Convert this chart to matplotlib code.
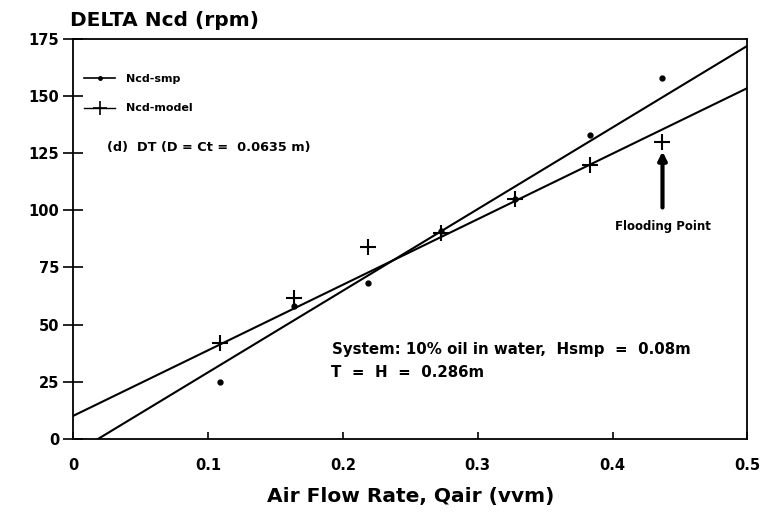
"""
Rotor speed difference vs. air flow rate, sample data against model,
with straight-line fits for each series.
"""

import matplotlib.pyplot as plt

plt.rcParams['font.family'] = ['DejaVu Sans']

# -------------------- Data --------------------
q_air = [0.109, 0.164, 0.219, 0.273, 0.328, 0.383, 0.437]
ncd_smp = [25, 58, 68, 91, 105, 133, 158]
ncd_model = [42, 61.5, 84, 90, 105, 120, 130]

# straight-line fits, evaluated at the ends of the x range
fit_x = [0.0, 0.5]
fit_smp = [-6.7, 172.0]
fit_model = [10.0, 153.5]

flood_x = 0.437
flood_y = 130

x_ticks = [0, 0.1, 0.2, 0.3, 0.4, 0.5]
x_tick_labels = ["0", "0.1", "0.2", "0.3", "0.4", "0.5"]
y_ticks = [0, 25, 50, 75, 100, 125, 150, 175]

# -------------------- Plot --------------------
fig = plt.figure(figsize=(7.77, 5.12), dpi=100)
ax = fig.add_axes([0.094, 0.143, 0.868, 0.781])

ax.plot(fit_x, fit_smp, color="black", lw=1.5)
ax.plot(fit_x, fit_model, color="black", lw=1.5)
ax.plot(q_air, ncd_smp, ls="none", marker="o", ms=3.5, color="black")
ax.plot(q_air, ncd_model, ls="none", marker="+", ms=12, mew=1.5, color="black")

# legend entries drawn as proxies
h_smp, = ax.plot([], [], color="black", lw=1.2, marker="o", ms=2.5)
h_model, = ax.plot([], [], color="black", lw=1.0, marker="+", ms=10, mew=1.2)
leg = ax.legend([h_smp, h_model], ["Ncd-smp", "Ncd-model"], loc="upper left",
                bbox_to_anchor=(0.0, 0.94), frameon=False, fontsize=8,
                handlelength=2.8, labelspacing=1.75, handletextpad=1.0,
                borderaxespad=0.6)
for t in leg.get_texts():
    t.set_fontweight("bold")

ax.text(0.025, 126, "(d)  DT (D = Ct =  0.0635 m)", fontsize=9.3,
        fontweight="bold")
ax.text(0.192, 37, "System: 10% oil in water,  Hsmp  =  0.08m", fontsize=10.8,
        fontweight="bold")
ax.text(0.191, 27, "T  =  H  =  0.286m", fontsize=10.8, fontweight="bold")

ax.annotate("", xy=(flood_x, flood_y - 3), xytext=(flood_x, flood_y - 30),
            arrowprops=dict(arrowstyle="-|>", color="black", lw=3,
                            mutation_scale=12))
ax.text(flood_x, flood_y - 37, "Flooding Point", fontsize=8.5,
        fontweight="bold", ha="center", va="center")

ax.set_xlim(0, 0.5)
ax.set_ylim(0, 175)
ax.set_xticks(x_ticks)
ax.set_xticklabels(x_tick_labels)
ax.set_yticks(y_ticks)
ax.tick_params(axis="y", direction="inout", length=14, width=1.2,
               labelsize=10.5, pad=3)
ax.tick_params(axis="x", direction="in", length=5, width=1.2,
               labelsize=10.5, pad=14)
for lbl in ax.get_xticklabels() + ax.get_yticklabels():
    lbl.set_fontweight("bold")
for sp in ax.spines.values():
    sp.set_linewidth(1.3)

ax.set_xlabel("Air Flow Rate, Qair (vvm)", fontsize=14.5, fontweight="bold",
              labelpad=10)
fig.text(0.09, 0.96, "DELTA Ncd (rpm)", fontsize=14.5, fontweight="bold",
         ha="left", va="center")

fig.savefig("out.png", dpi=100)
